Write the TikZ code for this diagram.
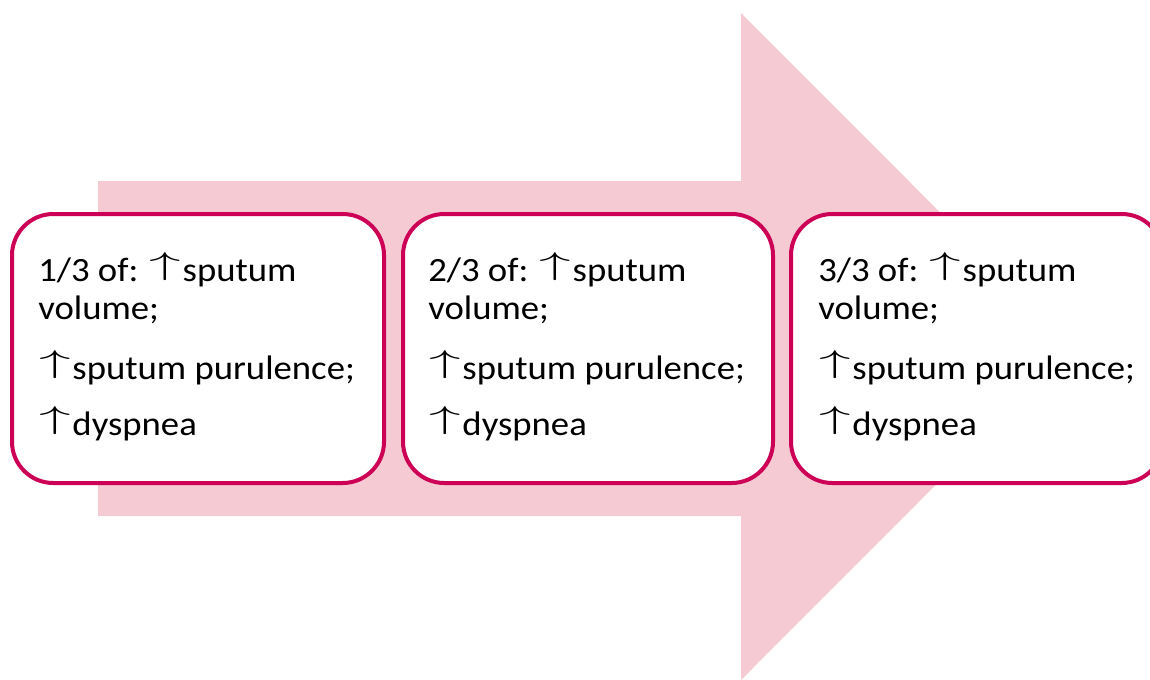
\documentclass[tikz,border=0pt]{standalone}
\usepackage{graphicx}
\usepackage{fontspec}
\setmainfont{Carlito}[FakeStretch=1.08]
\definecolor{arrowpink}{RGB}{245,202,210}
\definecolor{boxred}{RGB}{204,0,85}
\newcommand{\upar}{\raisebox{0.2em}{\scalebox{1.9}[0.95]{$\uparrow$}}\kern0.05em}
\tikzset{
  stepbox/.style={draw=boxred, line width=3pt, fill=white, rounded corners=31pt},
  txt/.style={anchor=base west, inner sep=0pt, font=\fontsize{25.5}{30}\selectfont, text=black}
}
\begin{document}
\begin{tikzpicture}[x=0.75pt,y=-0.75pt]
\useasboundingbox (0,0) rectangle (1150,679);
% big arrow
\fill[arrowpink] (98,181) -- (741,181) -- (741,13) -- (1074,346.5) -- (741,680) -- (741,516) -- (98,516) -- cycle;
% boxes
\draw[stepbox] (12,214) rectangle (384,483);
\node[inner sep=0pt] (b1) at (198,348.5) {};
\draw[stepbox] (403,214) rectangle (773,483);
\node[inner sep=0pt] (b2) at (588,348.5) {};
\draw[stepbox] (791,214) rectangle (1163,483);
\node[inner sep=0pt] (b3) at (977,348.5) {};
% texts
\foreach \n/\x in {1/38,2/428,3/818}{
  \node[txt] (t\n a) at (\x,281) {\n/3 of: \upar sputum};
  \node[txt] (t\n b) at (\x,319) {volume;};
  \node[txt] (t\n c) at (\x+1,379) {\upar sputum purulence;};
  \node[txt] (t\n d) at (\x+1,435) {\upar dyspnea};
}
\end{tikzpicture}
\end{document}
